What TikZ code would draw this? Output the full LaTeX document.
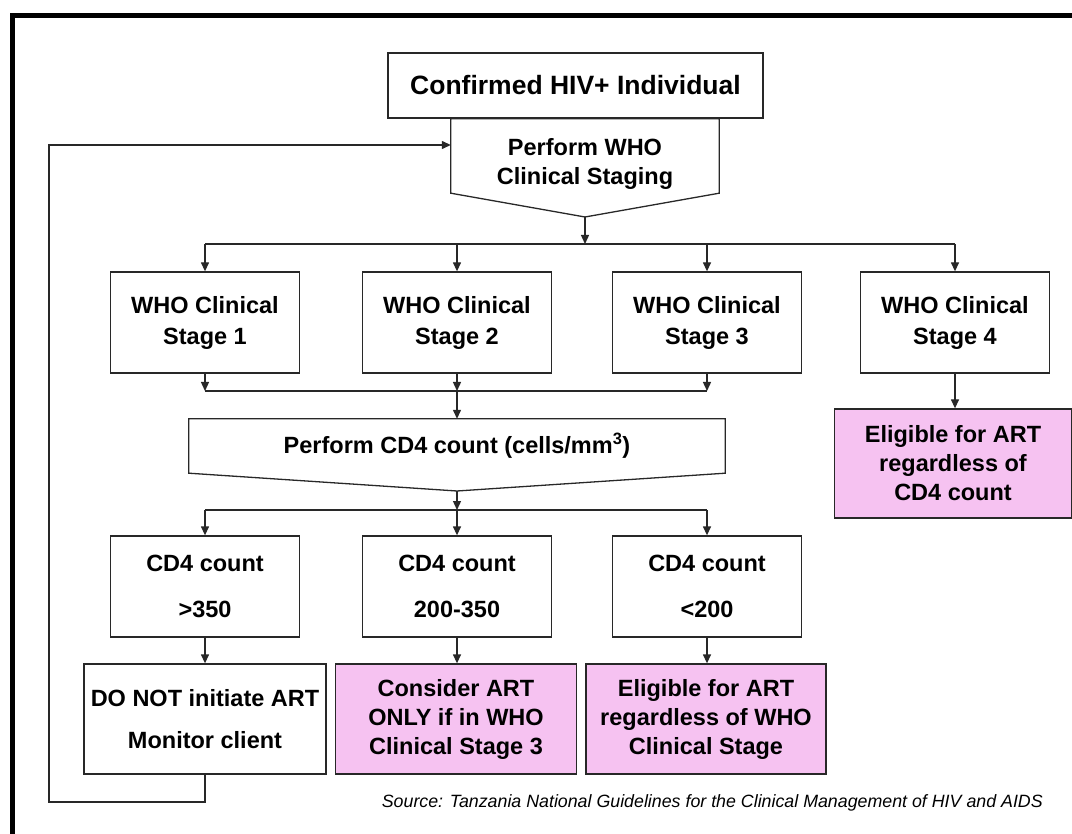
\documentclass[tikz,border=0pt]{standalone}
\usepackage{fontspec}
\setmainfont{Liberation Sans}
\usepackage{tikz}
\usetikzlibrary{arrows.meta, positioning, calc}
\definecolor{artpink}{RGB}{246,194,241}
\definecolor{boxline}{RGB}{40,40,40}
\tikzset{
  hiv/.style={rectangle, draw=boxline, fill=white, line width=1.3pt,
    minimum width=375pt, minimum height=65pt, inner sep=0pt,
    font=\fontsize{26.5}{32}\selectfont\bfseries, align=center},
  who/.style={rectangle, minimum width=268pt, minimum height=75pt, inner sep=0pt,
    font=\fontsize{23.5}{29}\selectfont\bfseries, align=center},
  stg/.style={rectangle, draw=boxline, fill=white, line width=1.3pt,
    minimum width=189pt, minimum height=101pt, inner sep=0pt,
    font=\fontsize{23.5}{31}\selectfont\bfseries, align=center},
  cnt/.style={stg, font=\fontsize{23.5}{46}\selectfont\bfseries},
  res/.style={stg, minimum width=242pt, minimum height=110pt,
    font=\fontsize{23.5}{42}\selectfont\bfseries},
  art/.style={res, fill=artpink, minimum width=241pt,
    font=\fontsize{23.5}{29}\selectfont\bfseries},
  lnk/.style={line width=1.3pt, boxline},
  arrow/.style={-{Triangle[length=9pt, width=8pt]}, line width=1.3pt, boxline},
  src/.style={font=\fontsize{17.8}{21}\selectfont\itshape, inner sep=0pt}
}

\begin{document}
\begin{tikzpicture}[x=1pt, y=-1pt]
  \useasboundingbox (0,0) rectangle (1072,834);
  \draw[line width=5pt] (12.5,834) -- (12.5,15.5) -- (1072,15.5);

  \node[hiv] (hiv) at (575.5,85.5) {Confirmed HIV+ Individual};
  \node[who] (who) at (585,164) {Perform WHO\\Clinical Staging};
  \coordinate (whotip) at (585,217);
  \draw[lnk] (who.west |- hiv.south) -- (who.east |- hiv.south)
    -- ([yshift=8.5pt]who.south east) -- (whotip)
    -- ([yshift=8.5pt]who.south west) -- cycle;

  \node[stg] (s1) at (205,322.5) {WHO Clinical\\Stage 1};
  \node[stg] (s2) at (457,322.5) {WHO Clinical\\Stage 2};
  \node[stg] (s3) at (707,322.5) {WHO Clinical\\Stage 3};
  \node[stg] (s4) at (955,322.5) {WHO Clinical\\Stage 4};
  \node[art, minimum width=237pt, minimum height=109pt] (p4) at (953,463.5)
    {Eligible for ART\\regardless of\\CD4 count};

  \node[who, minimum width=536pt, minimum height=54pt] (cd4) at (457,446)
    {Perform CD4 count (cells/mm\textsuperscript{3})};
  \coordinate (cd4tip) at (457,491);
  \draw[lnk] (cd4.north west) -- (cd4.north east) -- (cd4.south east)
    -- (cd4tip) -- (cd4.south west) -- cycle;

  \node[cnt] (c1) at (205,586.5) {CD4 count\\>350};
  \node[cnt] (c2) at (457,586.5) {CD4 count\\200-350};
  \node[cnt] (c3) at (707,586.5) {CD4 count\\<200};

  \node[res] (b1) at (205,719) {DO NOT initiate ART\\Monitor client};
  \node[art] (b2) at (456,719) {Consider ART\\ONLY if in WHO\\Clinical Stage 3};
  \node[art, minimum width=240pt] (b3) at (706,719)
    {Eligible for ART\\regardless of WHO\\Clinical Stage};

  \node[src, anchor=base east] (src) at (1043,807)
    {Source: Tanzania National Guidelines for the Clinical Management of HIV and AIDS};

  \coordinate (br1) at (585,244);
  \coordinate (mg) at (457,391);
  \coordinate (br2) at (457,510);
  \coordinate (lp) at (49,802);
  \coordinate (fb) at ([yshift=19pt]who.west);

  \draw[arrow] (whotip) -- (br1);
  \draw[lnk] (s1 |- br1) -- (s4 |- br1);
  \foreach \s in {s1,s2,s3,s4}
    \draw[arrow] (\s |- br1) -- (\s.north);
  \foreach \s in {s1,s2,s3}
    \draw[arrow] (\s.south) -- (\s |- mg);
  \draw[lnk] (s1 |- mg) -- (s3 |- mg);
  \draw[arrow] (mg) -- (cd4.north);
  \draw[arrow] (s4.south) -- (s4.south |- p4.north);

  \draw[arrow] (cd4tip) -- (br2);
  \draw[lnk] (c1 |- br2) -- (c3 |- br2);
  \foreach \c in {c1,c2,c3}
    \draw[arrow] (\c |- br2) -- (\c.north);
  \foreach \c/\b in {c1/b1,c2/b2,c3/b3}
    \draw[arrow] (\c.south) -- (\c.south |- \b.north);

  \draw[arrow] (b1.south) -- (b1.south |- lp) -- (lp) -- (lp |- fb) -- (fb);
\end{tikzpicture}
\end{document}
